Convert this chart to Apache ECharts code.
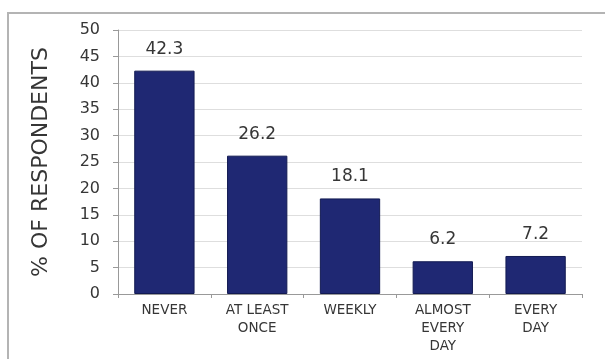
<!DOCTYPE html>
<html>
<head>
<meta charset="utf-8">
<script src="https://cdn.jsdelivr.net/npm/echarts@6/dist/echarts.min.js"></script>
<style>
    html, body { margin: 0; padding: 0; background: #fff; }
    #chart { width: 605px; height: 359px; }
</style>
</head>
<body>
<div id="chart"></div>
<script>
// data
const categories = ['NEVER', 'AT LEAST\nONCE', 'WEEKLY', 'ALMOST\nEVERY\nDAY', 'EVERY\nDAY'];
const values = [42.3, 26.2, 18.1, 6.2, 7.2];
const yTicks = [0, 5, 10, 15, 20, 25, 30, 35, 40, 45, 50];

const font = 'DejaVu Sans';
const textColor = '#363636';

let myChart = echarts.init(document.getElementById('chart'));

let option = {
    animation: false,
    backgroundColor: '#fff',
    textStyle: { fontFamily: font },
    graphic: [
        {
            // outer frame: only left and top edges show
            type: 'polyline',
            shape: { points: [[8, 400], [8, 13], [700, 13]] },
            style: { fill: 'none', stroke: '#b4b4b4', lineWidth: 2 },
            silent: true
        }
    ],
    grid: {
        left: 118,
        right: 23,
        top: 30,
        bottom: 65
    },
    xAxis: {
        type: 'category',
        data: categories,
        axisLine: { show: true, lineStyle: { color: '#999', width: 1 } },
        axisTick: { show: true, length: 4, lineStyle: { color: '#999' } },
        axisLabel: {
            color: textColor,
            fontFamily: font,
            fontSize: 13.5,
            lineHeight: 18,
            margin: 7,
            interval: 0
        }
    },
    yAxis: {
        type: 'value',
        min: yTicks[0],
        max: yTicks[yTicks.length - 1],
        interval: 5,
        name: '% OF RESPONDENTS',
        nameLocation: 'middle',
        nameGap: 66,
        nameRotate: 90,
        nameTextStyle: { color: textColor, fontFamily: font, fontSize: 22 },
        axisLine: { show: true, lineStyle: { color: '#999', width: 1 } },
        axisTick: { show: true, length: 5, lineStyle: { color: '#999' } },
        axisLabel: {
            color: textColor,
            fontFamily: font,
            fontSize: 16,
            margin: 18
        },
        splitLine: { show: true, lineStyle: { color: '#dedede', width: 1 } }
    },
    series: [
        {
            type: 'bar',
            data: values,
            barWidth: '65%',
            itemStyle: {
                color: '#1f2873',
                borderColor: '#121a52',
                borderWidth: 1
            },
            label: {
                show: true,
                position: 'top',
                distance: 13,
                color: textColor,
                fontFamily: font,
                fontSize: 17
            }
        }
    ]
};

myChart.setOption(option);
</script>
</body>
</html>
